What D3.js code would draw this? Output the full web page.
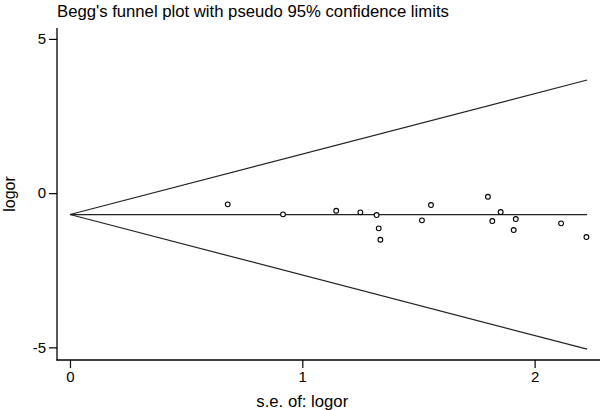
<!DOCTYPE html>
<html><head><meta charset="utf-8">
<script src="https://cdn.jsdelivr.net/npm/d3@7"></script>
<style>body{margin:0;background:#fff}svg{display:block}text{font-family:"Liberation Sans",Arial,sans-serif;fill:#000}</style>
</head><body><div id="c"></div>
<script>
const titleText = "Begg's funnel plot with pseudo 95% confidence limits";
const xLabel = "s.e. of: logor";
const yLabel = "logor";
const seValues = [0.679,0.917,1.146,1.250,1.320,1.329,1.336,1.515,1.554,1.799,1.818,1.854,1.919,1.910,2.114,2.223];
const logorValues = [-0.363,-0.687,-0.571,-0.623,-0.710,-1.141,-1.511,-0.882,-0.386,-0.117,-0.905,-0.613,-0.840,-1.196,-0.979,-1.423];
const pooled = [-0.694];
const seMax = [2.226];
const xTicks = [0,1,2];
const yTicks = [-5,0,5];

const W=600,H=410;
const svg=d3.select("#c").append("svg").attr("width",W).attr("height",H);
const x=d3.scaleLinear().domain([-0.0559,2.2815]).range([57,600]);
const y=d3.scaleLinear().domain([-5.41,5.354]).range([360,28]);

svg.append("text").attr("x",57).attr("y",17).attr("font-size",16.7).text(titleText);

const yAx=svg.append("g").attr("transform","translate(57,0)")
  .call(d3.axisLeft(y).tickValues(yTicks).tickSize(8).tickPadding(3).tickFormat(d=>String(d)));
const xAx=svg.append("g").attr("transform","translate(0,360)")
  .call(d3.axisBottom(x).tickValues(xTicks).tickSize(8).tickPadding(3).tickFormat(d=>String(d)));
[yAx,xAx].forEach(g=>{
  g.select(".domain").remove();
  g.selectAll("line").attr("stroke","#000").attr("stroke-width",1.2);
  g.selectAll("text").attr("font-size",15).attr("fill","#000").style("font-family","'Liberation Sans',Arial,sans-serif");
});
svg.append("line").attr("x1",57).attr("x2",57).attr("y1",y.range()[1]).attr("y2",360.5).attr("stroke","#000").attr("stroke-width",1.3);
svg.append("line").attr("x1",56.5).attr("x2",600).attr("y1",360).attr("y2",360).attr("stroke","#000").attr("stroke-width",1.3);

svg.append("text").attr("x",x(1)).attr("y",407).attr("text-anchor","middle").attr("font-size",16.7).text(xLabel);
svg.append("text").attr("transform",`translate(15,${(28+360)/2}) rotate(-90)`).attr("text-anchor","middle").attr("font-size",16).text(yLabel);

const p=pooled[0], s=seMax[0];
const lines=[
  [[0,p],[s,p+1.96*s]],
  [[0,p],[s,p]],
  [[0,p],[s,p-1.96*s]]
];
svg.selectAll("path.f").data(lines).enter().append("path")
  .attr("d",d=>d3.line().x(v=>x(v[0])).y(v=>y(v[1]))(d))
  .attr("fill","none").attr("stroke","#222").attr("stroke-width",1.2);

svg.selectAll("circle").data(seValues.map((v,i)=>[v,logorValues[i]])).enter().append("circle")
  .attr("cx",d=>x(d[0])).attr("cy",d=>y(d[1])).attr("r",2.4)
  .attr("fill","#fff").attr("stroke","#000").attr("stroke-width",1.1);
</script></body></html>
